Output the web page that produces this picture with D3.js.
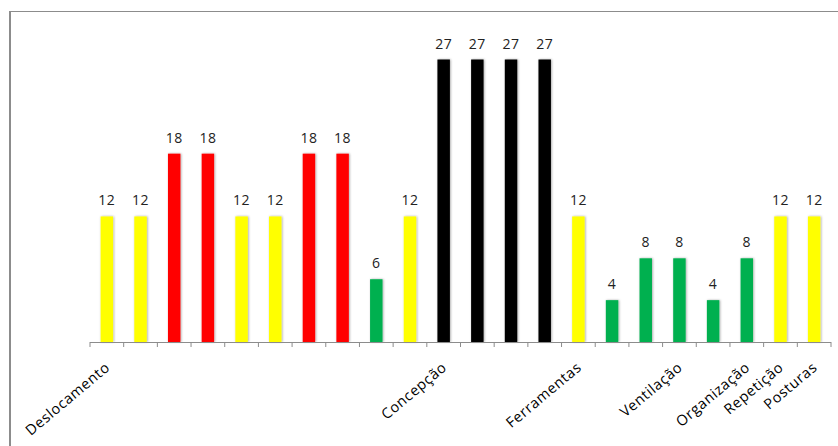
<!DOCTYPE html>
<html>
<head>
<meta charset="utf-8">
<script src="https://cdn.jsdelivr.net/npm/d3@7"></script>
<style>
  html, body { margin: 0; padding: 0; background: #fff; }
  svg { display: block; }
</style>
</head>
<body>
<svg id="chart" width="838" height="446"></svg>
<script>
// Risk scores per item, with their category label (blank where none is shown)
const labels = ["Deslocamento", "", "", "", "", "", "", "", "", "", "Concepção", "", "", "", "Ferramentas", "", "", "Ventilação", "", "Organização", "Repetição", "Posturas"];
const values = [12, 12, 18, 18, 12, 12, 18, 18, 6, 12, 27, 27, 27, 27, 12, 4, 8, 8, 4, 8, 12, 12];
const levels = ["y", "y", "r", "r", "y", "y", "r", "r", "g", "y", "k", "k", "k", "k", "y", "g", "g", "g", "g", "g", "y", "y"];
const levelColors = { y: "#FFFF00", r: "#FF0000", g: "#00B050", k: "#000000" };

const svg = d3.select("#chart");
const W = 838, H = 446;
const margin = { left: 90, right: 7, top: 0, baseline: 342 };

// Chart area frame
svg.append("line").attr("x1", 9).attr("x2", W).attr("y1", 11.5).attr("y2", 11.5)
  .attr("stroke", "#8c8c8c").attr("stroke-width", 1.2);
svg.append("line").attr("x1", 10).attr("x2", 10).attr("y1", 11).attr("y2", H)
  .attr("stroke", "#8c8c8c").attr("stroke-width", 2);

const idx = values.map((_, i) => i);
const x = d3.scaleBand().domain(idx).range([margin.left, W - margin.right])
  .paddingInner(0.63).paddingOuter(0.315);
const y = d3.scaleLinear().domain([0, 27]).range([margin.baseline, 59.5]);

// Soft shadow around each bar
const defs = svg.append("defs");
const f = defs.append("filter").attr("id", "shadow")
  .attr("x", "-50%").attr("y", "-10%").attr("width", "200%").attr("height", "120%");
f.append("feDropShadow").attr("dx", 0.8).attr("dy", 0).attr("stdDeviation", 1.1)
  .attr("flood-color", "#000").attr("flood-opacity", 0.35);

svg.append("g").selectAll("rect").data(idx).join("rect")
  .attr("x", i => x(i))
  .attr("y", i => y(values[i]))
  .attr("width", x.bandwidth())
  .attr("height", i => y(0) - y(values[i]))
  .attr("fill", i => levelColors[levels[i]])
  .attr("filter", "url(#shadow)");

// Value labels
svg.append("g").selectAll("text").data(idx).join("text")
  .attr("x", i => x(i) + x.bandwidth() / 2)
  .attr("y", i => y(values[i]) - 11)
  .attr("text-anchor", "middle")
  .attr("font-family", "'Open Sans', 'Liberation Sans', sans-serif")
  .attr("font-size", 14)
  .attr("letter-spacing", 0.5)
  .attr("fill", "#222")
  .text(i => values[i]);

// Category axis: ticks on band boundaries
const axisG = svg.append("g");
axisG.append("line")
  .attr("x1", margin.left).attr("x2", W - margin.right)
  .attr("y1", margin.baseline + 0.5).attr("y2", margin.baseline + 0.5)
  .attr("stroke", "#8c8c8c").attr("stroke-width", 1.2);
const step = x.step();
const bounds = d3.range(values.length + 1).map(k => margin.left + k * step);
axisG.selectAll("line.tick").data(bounds).join("line")
  .attr("class", "tick")
  .attr("x1", d => d).attr("x2", d => d)
  .attr("y1", margin.baseline).attr("y2", margin.baseline + 5)
  .attr("stroke", "#8c8c8c").attr("stroke-width", 1);

// Rotated category names
axisG.selectAll("text").data(idx.filter(i => labels[i])).join("text")
  .attr("transform", i => `translate(${x(i) + x.bandwidth() / 2 + 4},${margin.baseline + 27}) rotate(-40)`)
  .attr("text-anchor", "end")
  .attr("font-family", "'Open Sans', 'Liberation Sans', sans-serif")
  .attr("font-size", 14.5)
  .attr("letter-spacing", 0.6)
  .attr("fill", "#000")
  .text(i => labels[i]);
</script>
</body>
</html>
